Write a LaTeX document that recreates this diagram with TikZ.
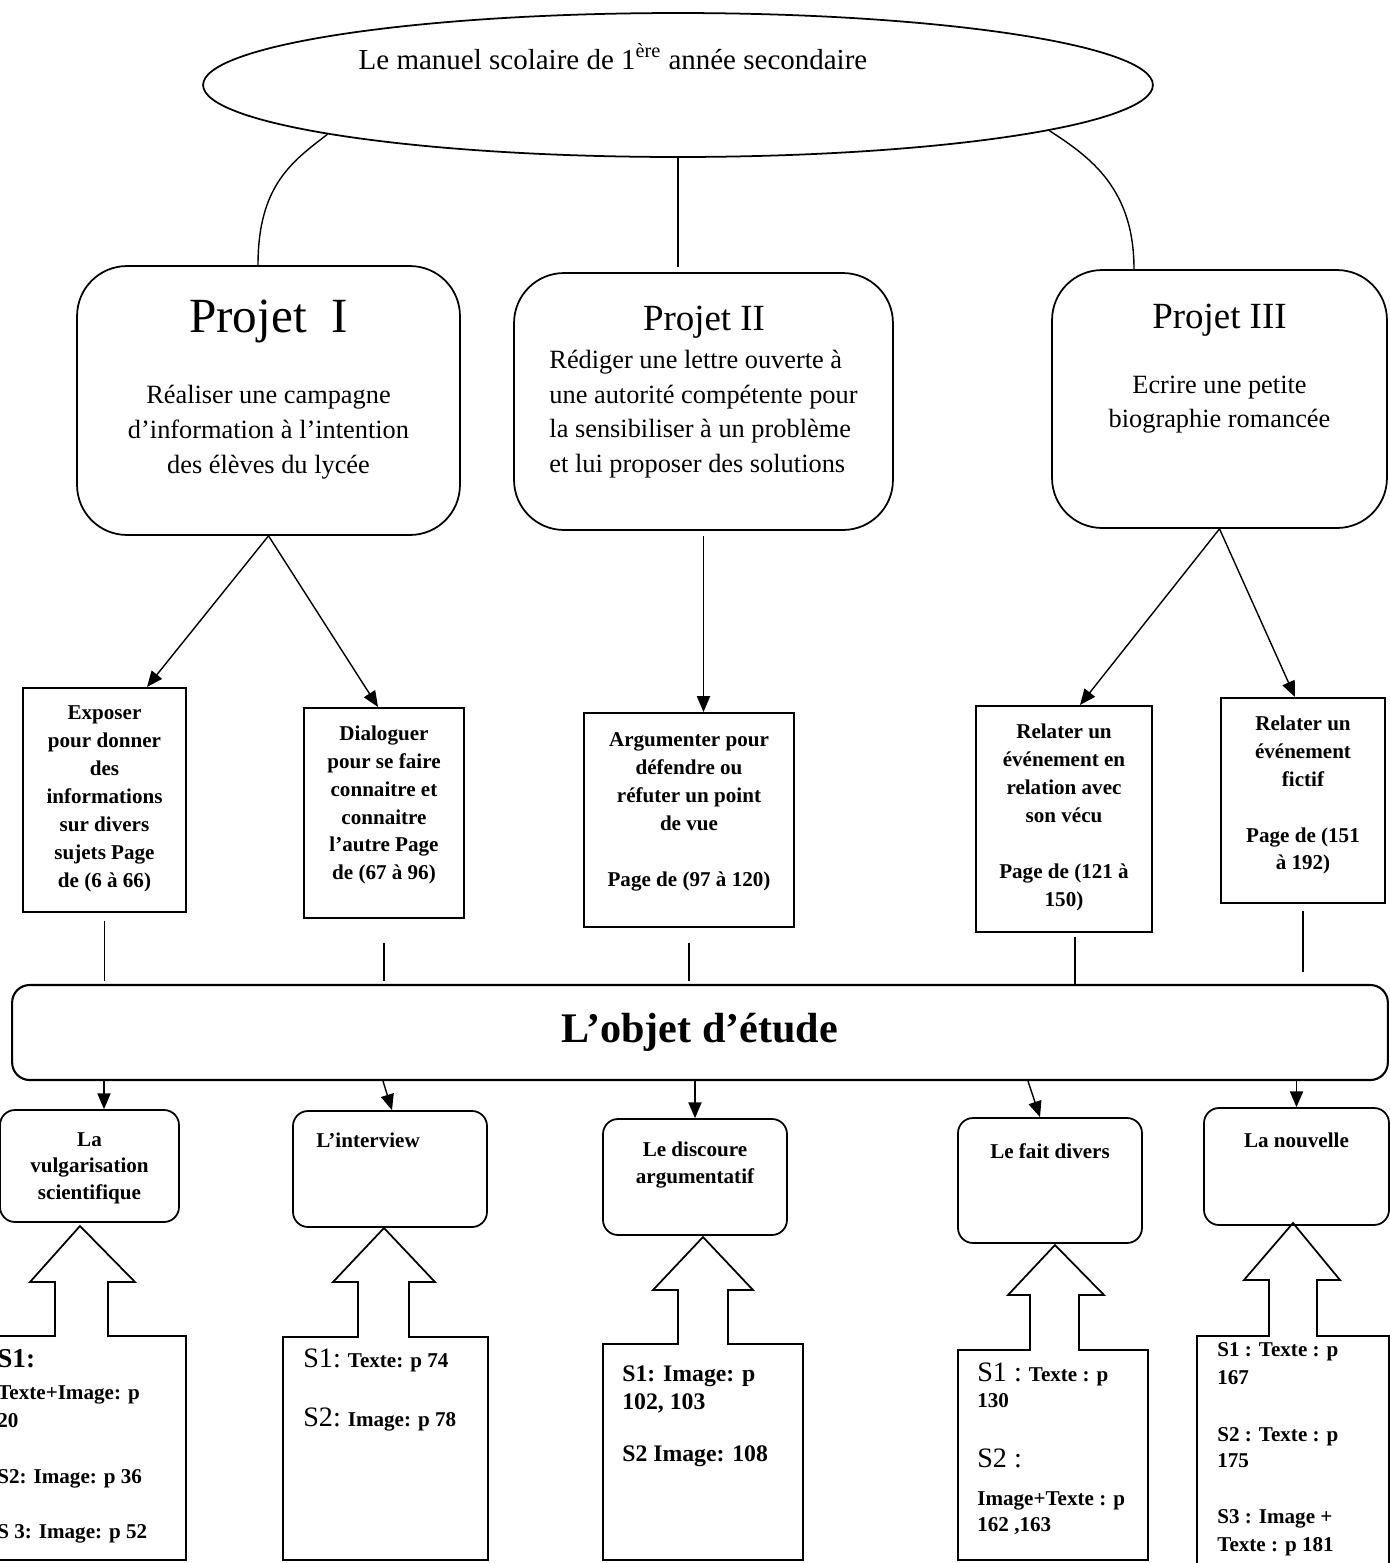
\documentclass[tikz,border=0pt]{standalone}
\usepackage{fontspec}
\setmainfont{Liberation Serif}
\usepackage{tikz}
\usetikzlibrary{arrows.meta,calc,positioning,shapes.geometric}

\begin{document}
\begin{tikzpicture}[x=0.02cm, y=-0.02cm, >={Triangle[length=9pt,width=7.5pt]},
    manuel/.style={ellipse, draw, line width=1pt, inner sep=0pt, minimum width=19cm, minimum height=2.88cm},
    projet/.style={draw, rounded corners=1cm, line width=1pt, inner sep=2pt, font=\fontsize{15}{19.8}\selectfont},
    sequence/.style={draw, line width=1.2pt, inner sep=2pt, align=center, font=\fontsize{12}{15.9}\selectfont\bfseries},
    objet/.style={draw, rounded corners=0.35cm, line width=1.2pt, font=\fontsize{24}{28}\selectfont\bfseries},
    genre/.style={draw, rounded corners=0.3cm, line width=1pt, inner sep=2pt, align=center, font=\fontsize{12}{15.3}\selectfont\bfseries},
    corpus/.style={anchor=north west, inner sep=0pt, align=left, font=\fontsize{12}{15.9}\selectfont\bfseries},
    bloc/.style={draw, line width=1pt},
    lien/.style={line width=0.8pt}]
    \useasboundingbox (0,0) rectangle (1390,1563);

    % Manuel
    \node[manuel] (manuel) at (678,85) {};
    \node[anchor=base, font=\fontsize{16.5}{20}\selectfont] (manueltxt) at (613,69) {Le manuel scolaire de 1\textsuperscript{ère} année secondaire};

    % Projets
    \node[projet, align=center, minimum width=7.66cm, minimum height=5.38cm, text depth=15.7pt] (projet1) at (268.5,400.5)
        {{\fontsize{28}{30}\selectfont Projet\ \ I}\\[20.5pt] Réaliser une campagne\\ d’information à l’intention\\ des élèves du lycée};
    \node[projet, align=left, minimum width=7.58cm, minimum height=5.14cm, text depth=13.9pt] (projet2) at (703.5,401.5)
        {\hspace*{53.3pt}{\fontsize{21}{24}\selectfont Projet II}\\[1.7pt] Rédiger une lettre ouverte à\\ une autorité compétente pour\\ la sensibiliser à un problème\\ et lui proposer des solutions};
    \node[projet, align=center, minimum width=6.7cm, minimum height=5.16cm, text depth=37.7pt] (projet3) at (1219.5,399)
        {{\fontsize{21}{24}\selectfont Projet III}\\[17pt] Ecrire une petite\\ biographie romancée};

    % Sequences
    \node[sequence, minimum width=3.26cm, minimum height=4.48cm, text depth=3.7pt] (expo) at (104.5,800)
        {Exposer\\ pour donner\\ des\\ informations\\ sur divers\\ sujets Page\\ de (6 à 66)};
    \node[sequence, minimum width=3.2cm, minimum height=4.2cm, text depth=11.7pt] (dialog) at (384,813)
        {Dialoguer\\ pour se faire\\ connaitre et\\ connaitre\\ l’autre Page\\ de (67 à 96)};
    \node[sequence, minimum width=4.2cm, minimum height=4.28cm, text depth=12.1pt] (argum) at (689,820)
        {Argumenter pour\\ défendre ou\\ réfuter un point\\ de vue\\[15.9pt] Page de (97 à 120)};
    \node[sequence, minimum width=3.52cm, minimum height=4.52cm, text depth=4.5pt] (relat1) at (1064,819)
        {Relater un\\ événement en\\ relation avec\\ son vécu\\[15.9pt] Page de (121 à\\ 150)};
    \node[sequence, minimum width=3.28cm, minimum height=4.1cm, text depth=8.8pt] (relat2) at (1303,800.5)
        {Relater un\\ événement\\ fictif\\[15.9pt] Page de (151\\ à 192)};

    % Objet d'etude
    \node[objet, minimum width=27.52cm, minimum height=1.9cm] (objet) at (700,1032.5) {L’objet d’étude};

    % Genres
    \node[genre, minimum width=3.58cm, minimum height=2.24cm, text depth=0pt] (vulg) at (89.5,1166) {La\\ vulgarisation\\ scientifique};
    \node[genre, minimum width=3.88cm, minimum height=2.32cm, text depth=33.1pt] (interview) at (390,1169) {L’interview\hspace*{25pt}};
    \node[genre, minimum width=3.68cm, minimum height=2.32cm, text depth=15.9pt] (discours) at (695,1177) {Le discoure\\ argumentatif};
    \node[genre, minimum width=3.68cm, minimum height=2.5cm, text depth=34pt] (faitdivers) at (1050,1180.5) {Le fait divers};
    \node[genre, minimum width=3.7cm, minimum height=2.34cm, text depth=29.5pt] (nouvelle) at (1296.5,1166.5) {La nouvelle};

    % Supports (fleche + cadre)
    \draw[bloc] (-15,1560) -- (-15,1336) -- (55,1336) -- (55,1282) -- (30,1282) -- (80,1226) -- (135,1282) -- (108,1282) -- (108,1336) -- (186,1336) -- (186,1560) -- cycle;
    \draw[bloc] (283,1560) -- (283,1337) -- (358,1337) -- (358,1282) -- (333,1282) -- (384,1228) -- (435,1282) -- (409,1282) -- (409,1337) -- (488,1337) -- (488,1560) -- cycle;
    \draw[bloc] (603,1560) -- (603,1344) -- (678,1344) -- (678,1290) -- (653,1290) -- (703,1237) -- (753,1290) -- (728,1290) -- (728,1344) -- (803,1344) -- (803,1560) -- cycle;
    \draw[bloc] (958,1560) -- (958,1350) -- (1030,1350) -- (1030,1295) -- (1008,1295) -- (1055,1245) -- (1104,1295) -- (1079,1295) -- (1079,1350) -- (1148,1350) -- (1148,1560) -- cycle;
    \draw[bloc] (1197,1575) -- (1197,1336) -- (1269,1336) -- (1269,1280) -- (1244,1280) -- (1293,1223) -- (1340,1280) -- (1317,1280) -- (1317,1336) -- (1389,1336) -- (1389,1575) -- cycle;

    \node[corpus] (corpus1) at (-3,1349)
        {{\fontsize{15.5}{18}\selectfont S1:}\\[2.2pt] Texte+Image: p\\ 20\\[16.4pt] S2: Image: p 36\\[15.3pt] S 3: Image: p 52};
    \node[corpus] (corpus2) at (303,1348.5)
        {{\fontsize{16}{19}\selectfont\mdseries S1:} Texte: p 74\\[17.6pt] {\fontsize{16}{19}\selectfont\mdseries S2:} Image: p 78};
    \node[corpus, font=\fontsize{13.5}{15.9}\selectfont\bfseries] (corpus3) at (622,1365.6)
        {S1: Image: p\\ 102, 103\\[13.6pt] S2 Image: 108};
    \node[corpus, font=\fontsize{12}{14.7}\selectfont\bfseries] (corpus4) at (977,1362.5)
        {{\fontsize{16}{19}\selectfont\mdseries S1 :} Texte : p\\ 130\\[19.3pt] {\fontsize{16}{19}\selectfont\mdseries S2 :}\\[7.4pt] Image+Texte : p\\ 162 ,163};
    \node[corpus] (corpus5) at (1217,1342.4)
        {S1 : Texte : p\\ 167\\[16.4pt] S2 : Texte : p\\[-1.2pt] 175\\[16.4pt] S3 : Image +\\ Texte : p 181};

    % Liens manuel -> projets
    \draw[lien] (manuel.188) .. controls +(-35,27) and +(0,-80) .. ($(projet1.north)+(-10.5,0)$);
    \draw[lien, shorten >=3pt] (manuel.south) -- (manuel.south |- projet2.north);
    \draw[lien] (manuel.353.5) .. controls +(42,27) and +(0,-80) .. ($(projet3.north)+(-85.5,0)$);

    % Projets -> sequences
    \draw[lien, ->] (projet1.south) -- ($(expo.north)+(42.5,0)$);
    \draw[lien, ->] (projet1.south) -- ($(dialog.north)+(-6,0)$);
    \draw[lien, ->, shorten <=2.8pt] (projet2.south) -- (projet2.south |- argum.north);
    \draw[lien, ->] (projet3.south) -- ($(relat1.north)+(16,0)$);
    \draw[lien, ->] (projet3.south) -- ($(relat2.north)+(-8,0)$);

    % Sequences -> objet
    \coordinate (r1) at ($(relat1.south)+(11,0)$);
    \draw[lien, shorten <=4.5pt, shorten >=1.7pt] (expo.south) -- (expo.south |- objet.north);
    \draw[lien, shorten <=13.6pt, shorten >=1.7pt] (dialog.south) -- (dialog.south |- objet.north);
    \draw[lien, shorten <=8.5pt, shorten >=1.7pt] (argum.south) -- (argum.south |- objet.north);
    \draw[lien, shorten <=2.3pt] (r1) -- (r1 |- objet.north);
    \draw[lien, shorten <=4pt, shorten >=6.8pt] (relat2.south) -- (relat2.south |- objet.north);

    % Objet -> genres
    \coordinate (t1) at ($(vulg.north)+(14.5,0)$);
    \coordinate (t2) at ($(interview.north)+(2,0)$);
    \coordinate (t4) at ($(faitdivers.north)+(-10,0)$);
    \draw[lien, ->] (objet.south -| t1) -- (t1);
    \draw[lien, ->] ($(objet.south -| t2)+(-9,0)$) -- (t2);
    \draw[lien, ->] (objet.south -| discours.north) -- (discours.north);
    \draw[lien, ->] ($(objet.south -| t4)+(-12,0)$) -- (t4);
    \draw[lien, ->] (objet.south -| nouvelle.north) -- (nouvelle.north);
\end{tikzpicture}
\end{document}
